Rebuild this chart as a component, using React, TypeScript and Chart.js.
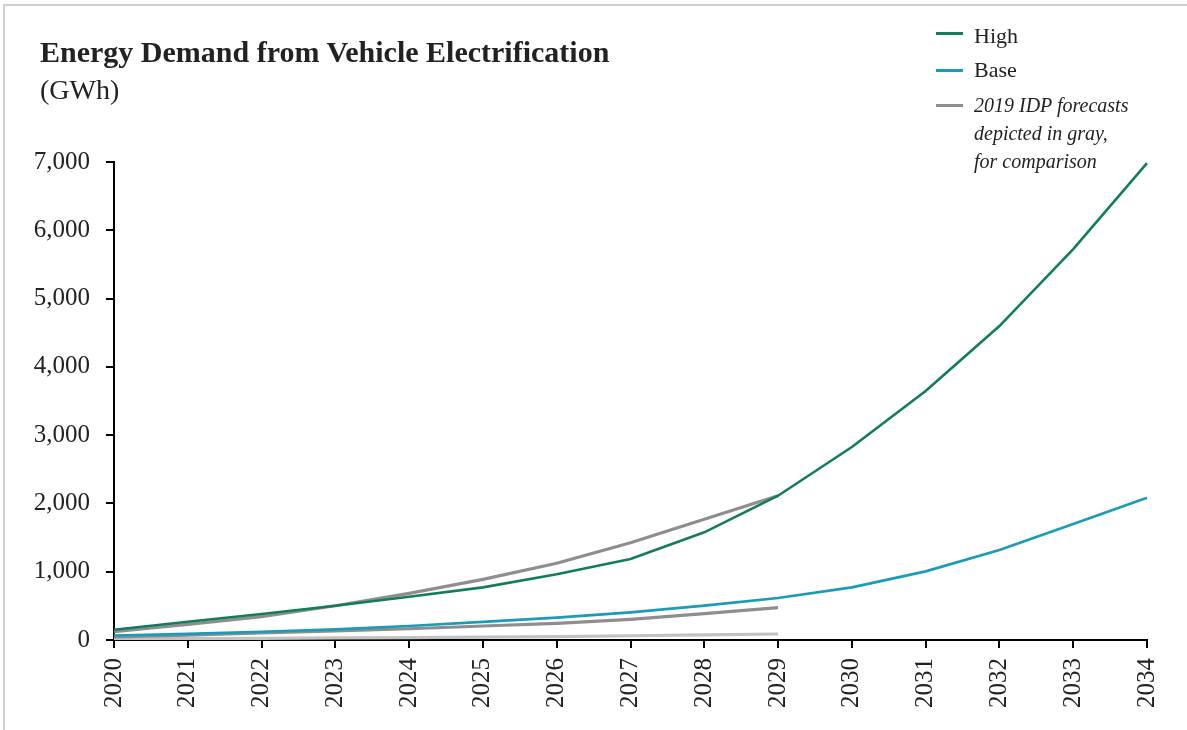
import React, { useEffect, useRef } from "react";
import { Chart, registerables } from "chart.js";

Chart.register(...registerables);

const years = ["2020", "2021", "2022", "2023", "2024", "2025", "2026", "2027", "2028", "2029", "2030", "2031", "2032", "2033", "2034"];
const highValues = [151, 268, 381, 502, 634, 771, 962, 1186, 1577, 2113, 2826, 3646, 4597, 5725, 6984];
const baseValues = [65, 90, 120, 155, 205, 265, 327, 405, 503, 615, 771, 1005, 1318, 1698, 2083];
const idpHighValues = [122, 230, 341, 502, 683, 888, 1123, 1425, 1767, 2113, null, null, null, null, null];
const idpBaseValues = [45, 72, 105, 132, 165, 205, 244, 303, 385, 473, null, null, null, null, null];
const idpLowValues = [20, 22, 25, 30, 35, 42, 50, 62, 74, 88, null, null, null, null, null];
const yMin = 0;
const yMax = 7000;
const yStep = 1000;

const titleText = "Energy Demand from Vehicle Electrification";
const subtitleText = "(GWh)";
const legendHigh = "High";
const legendBase = "Base";
const legendGrayLines = ["2019 IDP forecasts", "depicted in gray,", "for comparison"];

const SERIF = "'Liberation Serif', 'Times New Roman', serif";
const GREEN = "#137c5f";
const TEAL = "#1a9bb8";
const GRAY = "#8e8e8e";
const LIGHT_GRAY = "#c2c2c2";

export default function App() {
  const canvasRef = useRef<HTMLCanvasElement | null>(null);

  useEffect(() => {
    const canvas = canvasRef.current;
    if (!canvas) return;
    const axisGrid = {
      display: true,
      drawOnChartArea: false,
      drawTicks: true,
      tickLength: 8,
      color: "#000",
      lineWidth: 2,
    };
    const chart = new Chart(canvas, {
      type: "line",
      data: {
        labels: years,
        datasets: [
          { label: "High", data: highValues, borderColor: GREEN, borderWidth: 2.6 },
          { label: "Base", data: baseValues, borderColor: TEAL, borderWidth: 2.6 },
          { label: "2019 IDP High", data: idpHighValues, borderColor: GRAY, borderWidth: 3.2 },
          { label: "2019 IDP Base", data: idpBaseValues, borderColor: GRAY, borderWidth: 3.2 },
          { label: "2019 IDP Low", data: idpLowValues, borderColor: LIGHT_GRAY, borderWidth: 3.2 },
        ],
      },
      options: {
        animation: false,
        responsive: false,
        maintainAspectRatio: false,
        layout: { padding: { top: 162, right: 39, left: 0, bottom: 0 } },
        plugins: {
          legend: { display: false },
          title: { display: false },
          tooltip: { enabled: false },
        },
        elements: {
          point: { radius: 0, hoverRadius: 0 },
          line: { tension: 0, fill: false, borderCapStyle: "butt" },
        },
        scales: {
          x: {
            type: "category",
            offset: false,
            grid: axisGrid,
            border: { display: true, color: "#000", width: 2 },
            ticks: {
              autoSkip: false,
              minRotation: 90,
              maxRotation: 90,
              padding: 10,
              color: "#222",
              font: { family: SERIF, size: 25 },
            },
            afterFit: (s: any) => {
              s.height = 90;
            },
          },
          y: {
            min: yMin,
            max: yMax,
            grid: axisGrid,
            border: { display: true, color: "#000", width: 2 },
            ticks: {
              stepSize: yStep,
              padding: 16,
              color: "#222",
              font: { family: SERIF, size: 25 },
              callback: (v: any) => Number(v).toLocaleString("en-US"),
            },
            afterFit: (s: any) => {
              s.width = 114;
            },
          },
        },
      } as any,
    });
    return () => chart.destroy();
  }, []);

  const legendBar = (top: number, color: string) => (
    <div
      style={{
        position: "absolute",
        left: 936,
        top: top - 1.5,
        width: 27,
        height: 3,
        background: color,
      }}
    />
  );

  const textStyle = (left: number, top: number, size: number, extra: any = {}) => ({
    position: "absolute" as const,
    left,
    top,
    fontFamily: SERIF,
    fontSize: size,
    lineHeight: `${size}px`,
    color: "#222",
    whiteSpace: "nowrap" as const,
    margin: 0,
    ...extra,
  });

  return (
    <div
      style={{
        position: "fixed",
        left: 0,
        top: 0,
        width: 1187,
        height: 730,
        background: "#fff",
        overflow: "hidden",
      }}
    >
      <canvas ref={canvasRef} width={1187} height={730} style={{ position: "absolute", left: 0, top: 0, display: "block" }} />
      <div style={{ position: "absolute", left: 4, top: 4, width: 1183, height: 2, background: "#cfcfcf" }} />
      <div style={{ position: "absolute", left: 3, top: 4, width: 2, height: 726, background: "#cfcfcf" }} />
      <div style={textStyle(40, 37, 30, { fontWeight: "bold" })}>{titleText}</div>
      <div style={textStyle(40, 76, 28)}>{subtitleText}</div>
      {legendBar(33, GREEN)}
      {legendBar(70, TEAL)}
      {legendBar(105, GRAY)}
      <div style={textStyle(974, 25, 22)}>{legendHigh}</div>
      <div style={textStyle(974, 59, 22)}>{legendBase}</div>
      {legendGrayLines.map((t, i) => (
        <div key={t} style={textStyle(974, 95 + i * 28, 20, { fontStyle: "italic" })}>
          {t}
        </div>
      ))}
    </div>
  );
}
